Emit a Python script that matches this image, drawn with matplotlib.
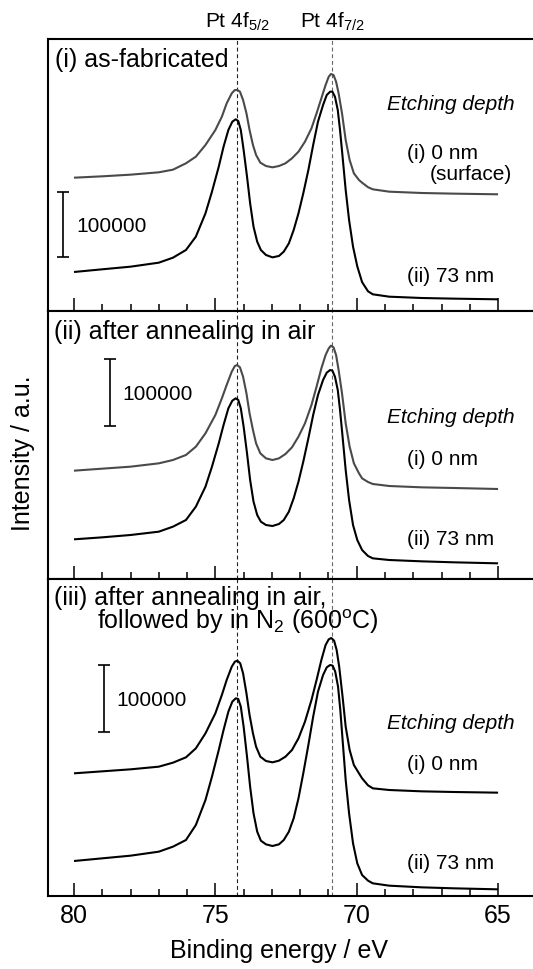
import matplotlib
matplotlib.use("Agg")
import matplotlib.pyplot as plt
from matplotlib.ticker import FixedLocator

plt.rcParams['font.family'] = ['Liberation Sans', 'DejaVu Sans']
plt.rcParams['mathtext.fontset'] = 'custom'
plt.rcParams['mathtext.rm'] = 'Liberation Sans'
plt.rcParams['mathtext.it'] = 'Liberation Sans:italic'
plt.rcParams['mathtext.bf'] = 'Liberation Sans:bold'

# ---------------- data ----------------
peak_positions = [74.24, 70.87]
peak_labels = [r"Pt 4f$_{5/2}$", r"Pt 4f$_{7/2}$"]
x_major = [80, 75, 70, 65]
x_minor = list(range(65, 81))

panel_titles = ["(i) as-fabricated", "(ii) after annealing in air",
                "(iii) after annealing in air,"]
panel3_title_line2 = r"followed by in N$_2$ (600$^{\rm o}$C)"
depth_labels = ["(i) 0 nm", "(ii) 73 nm"]
scale_value = 100000

# common energy grid (binding energy, eV)
energy = [80.0, 79.0, 78.0, 77.0, 76.5, 76.04, 75.69, 75.35, 75.12, 75.0, 74.88, 74.77, 74.71,
          74.60, 74.54, 74.42, 74.40, 74.31, 74.28, 74.22, 74.19, 74.13, 74.10, 74.02, 74.0,
          73.90, 73.88, 73.79, 73.77, 73.67, 73.65, 73.56, 73.52, 73.41, 73.39, 73.21, 72.98,
          72.75, 72.58, 72.52, 72.40, 72.29, 72.23, 72.06, 71.89, 71.83, 71.71, 71.60, 71.54,
          71.42, 71.37, 71.25, 71.19, 71.10, 71.06, 70.99, 70.94, 70.90, 70.86, 70.82, 70.77,
          70.73, 70.67, 70.64, 70.59, 70.52, 70.50, 70.39, 70.27, 70.25, 70.13, 70.10, 69.98,
          69.92, 69.81, 69.60, 69.43, 68.85, 67.70, 66.55, 65.0]


def pick(pairs):
    """Return the energies and counts of a curve given as (energy, counts) readings."""
    return [p[0] for p in pairs], [p[1] for p in pairs]


# Panel 1 (as-fabricated), (i) 0 nm
p1_i = [(80.0, 203000), (79.0, 205100), (78.0, 207600), (77.0, 211200), (76.5, 215200),
        (76.04, 224900), (75.69, 235000), (75.35, 252800), (75.0, 275600), (74.77, 295900),
        (74.60, 316200), (74.42, 331500), (74.31, 336500), (74.22, 336500), (74.13, 334000),
        (74.02, 321300), (73.90, 301000), (73.79, 275600), (73.67, 252800), (73.56, 237600),
        (73.41, 225900), (73.21, 220800), (72.98, 218800), (72.75, 220800), (72.52, 224900),
        (72.29, 232500), (72.06, 242600), (71.83, 257900), (71.60, 278200), (71.42, 301000),
        (71.25, 323900), (71.10, 344200), (70.99, 356800), (70.91, 360900), (70.82, 359400),
        (70.73, 349200), (70.64, 331500), (70.52, 301000), (70.39, 260400), (70.25, 229900),
        (70.10, 209600), (69.92, 199500), (69.81, 195400), (69.60, 188500), (69.43, 185300),
        (68.85, 181700), (67.70, 179700), (66.55, 178700), (65.0, 177700)]
# Panel 1, (ii) 73 nm
p1_ii = [(80.0, 59400), (79.0, 63500), (78.0, 67500), (77.0, 73600), (76.5, 81200),
         (76.04, 92900), (75.69, 113200), (75.35, 148700), (75.12, 181700), (74.88, 219800),
         (74.71, 250200), (74.54, 275600), (74.40, 288300), (74.28, 291900), (74.19, 289300),
         (74.10, 275600), (74.0, 245200), (73.88, 204600), (73.77, 164000), (73.65, 128400),
         (73.52, 105600), (73.39, 92900), (73.21, 85300), (72.98, 81700), (72.75, 83800),
         (72.58, 90400), (72.40, 103000), (72.23, 123300), (72.06, 148700), (71.89, 179200),
         (71.71, 214700), (71.54, 252800), (71.37, 288300), (71.19, 313700), (71.06, 328900),
         (70.94, 334000), (70.86, 334000), (70.77, 326400), (70.67, 306100), (70.59, 275600),
         (70.50, 235000), (70.39, 184300), (70.27, 138600), (70.13, 98000), (69.98, 68000),
         (69.81, 44000), (69.60, 30000), (69.43, 25400), (68.85, 21800), (67.70, 19800),
         (66.55, 18800), (65.0, 17800)]

# Panel 2 (after annealing in air), (i) 0 nm
p2_i = [(80.0, 162500), (79.0, 165500), (78.0, 168500), (77.0, 173500), (76.5, 178500),
        (76.04, 186000), (75.69, 198500), (75.35, 218500), (75.0, 246000), (74.77, 271000),
        (74.60, 291000), (74.42, 311000), (74.31, 319500), (74.23, 321000), (74.13, 317500),
        (74.02, 303500), (73.90, 278500), (73.79, 248500), (73.67, 223500), (73.56, 203500),
        (73.41, 188500), (73.21, 181000), (72.98, 178500), (72.75, 181000), (72.52, 187500),
        (72.29, 197500), (72.06, 213500), (71.83, 233500), (71.60, 261000), (71.42, 288500),
        (71.25, 316000), (71.10, 336000), (70.99, 346000), (70.91, 350000), (70.82, 347500),
        (70.73, 336000), (70.64, 313500), (70.52, 278500), (70.39, 233500), (70.25, 198500),
        (70.10, 173500), (69.92, 158500), (69.81, 151000), (69.60, 145500), (69.43, 142500),
        (68.85, 139500), (67.70, 137500), (66.55, 136500), (65.0, 135000)]
# Panel 2, (ii) 73 nm
p2_ii = [(80.0, 59500), (79.0, 62500), (78.0, 66000), (77.0, 71000), (76.5, 78500),
         (76.04, 88500), (75.69, 108500), (75.35, 138500), (75.12, 168500), (74.88, 203500),
         (74.71, 231000), (74.54, 256000), (74.40, 267500), (74.28, 271000), (74.19, 268500),
         (74.10, 256000), (74.0, 228500), (73.88, 188500), (73.77, 148500), (73.65, 116000),
         (73.52, 96000), (73.39, 86000), (73.21, 81000), (72.98, 79500), (72.75, 82500),
         (72.58, 88500), (72.40, 101000), (72.23, 121000), (72.06, 146000), (71.89, 176000),
         (71.71, 211000), (71.54, 246000), (71.37, 276000), (71.19, 298500), (71.06, 309500),
         (70.94, 313500), (70.86, 312500), (70.77, 303500), (70.67, 283500), (70.59, 253500),
         (70.50, 213500), (70.39, 163500), (70.27, 118500), (70.13, 81000), (69.98, 58500),
         (69.81, 43500), (69.60, 34500), (69.43, 31000), (68.85, 28500), (67.70, 26500),
         (66.55, 25000), (65.0, 23500)]

# Panel 3 (air, then N2 600 C), (i) 0 nm
p3_i = [(80.0, 184000), (79.0, 187000), (78.0, 190000), (77.0, 194000), (76.5, 200000),
        (76.04, 208000), (75.69, 221500), (75.35, 244000), (75.0, 274000), (74.77, 301500),
        (74.60, 324000), (74.42, 344000), (74.31, 351500), (74.22, 353000), (74.12, 349000),
        (74.02, 334000), (73.90, 304000), (73.79, 271500), (73.67, 244000), (73.56, 224000),
        (73.41, 209000), (73.21, 202500), (72.98, 200500), (72.75, 203000), (72.52, 209000),
        (72.29, 219000), (72.06, 236500), (71.83, 261500), (71.60, 294000), (71.42, 324000),
        (71.25, 354000), (71.10, 376500), (70.99, 385000), (70.90, 387000), (70.80, 383000),
        (70.71, 369000), (70.62, 344000), (70.50, 299000), (70.39, 254000), (70.25, 219000),
        (70.10, 196500), (69.92, 184000), (69.81, 176500), (69.60, 166000), (69.43, 161500),
        (68.85, 159000), (67.70, 157000), (66.55, 156000), (65.0, 155000)]
# Panel 3, (ii) 73 nm
p3_ii = [(80.0, 52500), (79.0, 56500), (78.0, 60500), (77.0, 66500), (76.5, 74000),
         (76.04, 84000), (75.69, 106500), (75.35, 144000), (75.12, 179000), (74.88, 219000),
         (74.71, 249000), (74.54, 276500), (74.40, 291500), (74.28, 296500), (74.19, 295500),
         (74.10, 284000), (74.0, 254000), (73.88, 209000), (73.77, 164000), (73.65, 124000),
         (73.52, 96500), (73.39, 83000), (73.21, 77500), (72.98, 75000), (72.75, 77500),
         (72.58, 84000), (72.40, 96500), (72.23, 116500), (72.06, 146500), (71.89, 184000),
         (71.71, 226500), (71.54, 269000), (71.37, 306500), (71.19, 331500), (71.06, 343000),
         (70.94, 346500), (70.85, 345500), (70.76, 336500), (70.66, 314000), (70.58, 279000),
         (70.49, 229000), (70.39, 174000), (70.27, 124000), (70.13, 79000), (69.98, 49000),
         (69.81, 31500), (69.60, 23000), (69.43, 19000), (68.85, 15500), (67.70, 13000),
         (66.55, 11500), (65.0, 10000)]

# ---------------- figure ----------------
W, H = 533, 969
fig = plt.figure(figsize=(W / 100, H / 100), dpi=100)

px_per_ev = 28.27
left_px = 48
right_px = 575            # right spine lies outside the saved picture
left = left_px / W
width = (right_px - left_px) / W
x_left_val = 80.92
xlim = (x_left_val, x_left_val - (right_px - left_px) / px_per_ev)
ax_w_px = right_px - left_px


def ax_x(px):
    return (px - left_px) / ax_w_px


panels = [
    dict(rect=[left, 1 - 311 / H, width, 272 / H], ymax=272 * 1522.8,
         curves=[(p1_i, '#4a4a4a'), (p1_ii, 'black')],
         bar_x=80.38, bar_bottom=81800, bar_lbl_x=79.90,
         etch_y=0.739, i_y=0.5577, ii_y=0.1077, surface=True, title_y=0.898, title_px=55),
    dict(rect=[left, 1 - 579 / H, width, 268 / H], ymax=268 * 1500,
         curves=[(p2_i, '#4a4a4a'), (p2_ii, 'black')],
         bar_x=78.73, bar_bottom=229500, bar_lbl_x=78.28,
         etch_y=0.581, i_y=0.4254, ii_y=0.1269, surface=False, title_y=0.8944, title_px=54),
    dict(rect=[left, 1 - 896 / H, width, 317 / H], ymax=317 * 1500,
         curves=[(p3_i, 'black'), (p3_ii, 'black')],
         bar_x=78.94, bar_bottom=246500, bar_lbl_x=78.49,
         etch_y=0.526, i_y=0.3975, ii_y=0.0842, surface=False, title_y=0.918, title_px=54),
]

axes = []
for k, p in enumerate(panels):
    ax = fig.add_axes(p['rect'])
    axes.append(ax)
    ax.set_xlim(*xlim)
    ax.set_ylim(0, p['ymax'])
    for s in ax.spines.values():
        s.set_linewidth(1.5)
    ax.set_yticks([])
    ax.xaxis.set_major_locator(FixedLocator(x_major))
    ax.xaxis.set_minor_locator(FixedLocator(x_minor))
    ax.tick_params(axis='x', which='major', direction='in', length=9.5, width=1.1,
                   labelsize=18, pad=6, top=False)
    ax.tick_params(axis='x', which='minor', direction='in', length=5, width=1.1, top=False)
    if k < 2:
        ax.tick_params(axis='x', labelbottom=False)

    for (pairs, col) in p['curves']:
        e, c = pick(pairs)
        ax.plot(e, c, color=col, lw=1.5, solid_joinstyle='round', solid_capstyle='butt')

    for pk, dcol in zip(peak_positions, ['#222222', '#666666']):
        ax.axvline(pk, color=dcol, lw=0.8, ls=(0, (3.5, 2.5)), zorder=0)

    # scale bar
    ax.errorbar([p['bar_x']], [p['bar_bottom'] + scale_value / 2], yerr=scale_value / 2,
                fmt='none', ecolor='black', elinewidth=1.2, capsize=4.2, capthick=1.2)
    ax.text(p['bar_lbl_x'], p['bar_bottom'] + scale_value / 2, f"{scale_value}",
            ha='left', va='center_baseline', fontsize=15)

    # labels
    ax.text(ax_x(386.7), p['etch_y'], "Etching depth", transform=ax.transAxes,
            fontsize=15, style='italic', ha='left', va='baseline')
    ax.text(ax_x(406.7), p['i_y'], depth_labels[0], transform=ax.transAxes,
            fontsize=15, ha='left', va='baseline')
    if p['surface']:
        ax.text(ax_x(430), 0.4816, "(surface)", transform=ax.transAxes,
                fontsize=15, ha='left', va='baseline')
    ax.text(ax_x(406.7), p['ii_y'], depth_labels[1], transform=ax.transAxes,
            fontsize=15, ha='left', va='baseline')

    ax.text(ax_x(p['title_px']), p['title_y'], panel_titles[k], transform=ax.transAxes,
            fontsize=18, ha='left', va='baseline')

axes[2].text(ax_x(97.3), 0.8413, panel3_title_line2, transform=axes[2].transAxes,
             fontsize=18, ha='left', va='baseline')

# peak headers
for pk, lbl in zip(peak_positions, peak_labels):
    axes[0].text(pk, 1.04, lbl, transform=axes[0].get_xaxis_transform(),
                 ha='center', va='baseline', fontsize=15)

fig.text(23 / W, 1 - 453 / H, "Intensity / a.u.", rotation=90, ha='center', va='center',
         fontsize=18)
fig.text(279.3 / W, 1 - 958.3 / H, "Binding energy / eV", ha='center', va='baseline',
         fontsize=18)

fig.savefig("out.png", dpi=100)
